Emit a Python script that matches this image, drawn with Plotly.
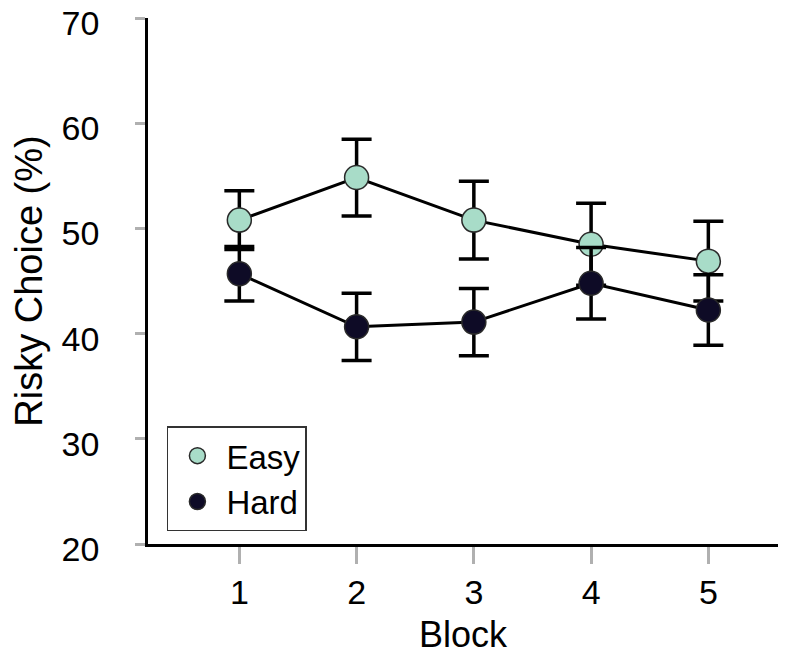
import plotly.graph_objects as go

blocks = [1, 2, 3, 4, 5]
tick_labels = ["1", "2", "3", "4", "5"]
easy_mean = [50.8, 54.85, 50.8, 48.5, 46.9]
easy_err = [2.8, 3.65, 3.7, 3.9, 3.8]
hard_mean = [45.7, 40.65, 41.1, 44.8, 42.25]
hard_err = [2.6, 3.2, 3.2, 3.4, 3.35]
y_ticks = [20, 30, 40, 50, 60, 70]

EASY_COLOR = "#a8dcc8"
HARD_COLOR = "#0e0b26"
FONT = "Liberation Sans, Arial, sans-serif"

fig = go.Figure()

# connecting lines (behind markers, no legend)
for ys in (easy_mean, hard_mean):
    fig.add_trace(go.Scatter(x=blocks, y=ys, mode="lines",
                             line=dict(color="#000000", width=3),
                             showlegend=False, hoverinfo="skip"))

for name, ys, err, col in (("Easy", easy_mean, easy_err, EASY_COLOR),
                            ("Hard", hard_mean, hard_err, HARD_COLOR)):
    fig.add_trace(go.Scatter(
        x=blocks, y=ys, mode="markers", name=name,
        marker=dict(size=24, color=col, line=dict(color="#2a2a2a", width=1.5)),
        error_y=dict(type="data", array=err, visible=True,
                     color="#000000", thickness=3.5, width=15),
    ))

# the page body adds an 8px offset, so the figure is sized to fit the window
fig.update_layout(
    width=787, height=647,
    margin=dict(l=140, r=17, t=10, b=111, autoexpand=False),
    paper_bgcolor="white", plot_bgcolor="white",
    font=dict(family=FONT, size=33, color="#000000"),
    showlegend=True,
    legend=dict(x=0.03, y=0.224, xanchor="left", yanchor="top",
                bgcolor="white", bordercolor="#333333", borderwidth=1.5,
                font=dict(size=33, family=FONT, color="#000000"),
                itemsizing="trace", itemwidth=48),
    xaxis=dict(range=[0.221, 5.594], tickvals=blocks, ticktext=tick_labels,
               automargin=False,
               showgrid=False, zeroline=False,
               showline=True, linecolor="#000000", linewidth=2.5,
               ticks="outside", ticklen=17, tickwidth=3, tickcolor="#b0b0b0",
               ticklabelstandoff=-1, ticklabeloverflow="allow",
               tickfont=dict(size=34, family=FONT, color="#000000"),
               title=dict(text="Block", font=dict(size=36, family=FONT, color="#000000"),
                          standoff=18)),
    yaxis=dict(range=[20, 70.02], tickvals=y_ticks,
               automargin=False,
               showgrid=False, zeroline=False,
               showline=True, linecolor="#000000", linewidth=2.5,
               ticks="outside", ticklen=10, tickwidth=3, tickcolor="#b0b0b0",
               ticklabelstandoff=29, ticklabelshift=5, ticklabeloverflow="allow",
               tickfont=dict(size=34, family=FONT, color="#000000"),
               title=dict(text="Risky Choice (%)", font=dict(size=38, family=FONT, color="#000000"),
                          standoff=8)),
)

fig.write_html("out.html")
